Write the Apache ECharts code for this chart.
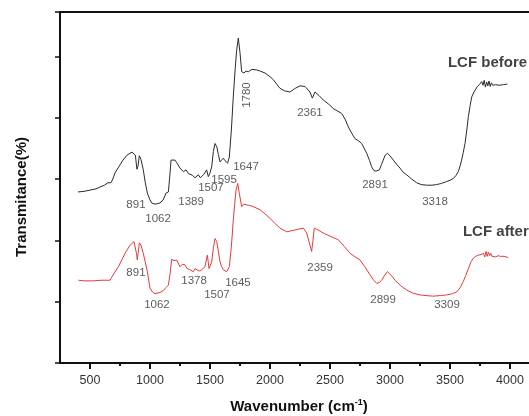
<!DOCTYPE html>
<html>
<head>
<meta charset="utf-8">
<script src="https://cdn.jsdelivr.net/npm/echarts@6/dist/echarts.min.js"></script>
<style>
  html, body { margin: 0; padding: 0; background: #fff; }
  #chart { width: 529px; height: 416px; }
</style>
</head>
<body>
<div id="chart"></div>
<script>
// FTIR spectra of LCF before and after treatment (wavenumber in cm-1, transmittance in arbitrary units)
const xMajorTicks = [500, 1000, 1500, 2000, 2500, 3000, 3500, 4000, 4500];
const xTickLabels = [500, 1000, 1500, 2000, 2500, 3000, 3500, 4000];
const xMinorTicks = [750, 1250, 1750, 2250, 2750, 3250, 3750, 4250];

const beforeLCF = [
  [400,27.9],[450,28.0],[500,28.2],[550,28.4],[583,28.7],[620,29.0],[650,29.4],[675,29.4],[690,30.0],[708,31.0],
  [740,32.0],[775,33.1],[808,33.9],[850,34.4],[861,34.4],[878,33.9],[891,31.6],[899,32.0],[911,33.8],[925,33.2],
  [944,31.5],[960,29.5],[978,27.7],[1000,26.6],[1014,26.1],[1042,25.9],[1083,26.1],[1110,26.6],[1133,27.7],[1153,27.9],
  [1165,30.5],[1175,33.1],[1208,33.1],[1222,32.7],[1250,31.8],[1278,31.2],[1300,31.5],[1320,30.9],[1333,31.0],[1355,30.6],
  [1375,30.2],[1403,30.7],[1420,30.2],[1431,30.4],[1450,30.8],[1472,31.5],[1486,30.4],[1500,31.0],[1514,32.0],[1528,34.5],
  [1542,35.8],[1556,35.3],[1570,34.0],[1583,32.8],[1595,32.6],[1611,33.4],[1625,33.0],[1639,32.8],[1647,32.6],[1661,33.6],
  [1678,38.0],[1694,43.4],[1710,48.0],[1722,51.0],[1736,53.0],[1750,50.6],[1764,47.5],[1783,47.3],[1800,47.6],[1819,47.5],
  [1850,47.9],[1889,47.8],[1920,47.6],[1958,47.3],[2000,46.7],[2028,46.2],[2083,44.8],[2120,44.4],[2167,44.2],[2210,44.8],
  [2250,45.2],[2292,45.1],[2333,44.2],[2353,43.2],[2375,44.2],[2410,43.6],[2444,42.9],[2490,42.2],[2528,41.5],[2597,40.7],
  [2625,39.8],[2653,38.5],[2680,37.5],[2708,36.6],[2740,36.2],[2764,35.8],[2806,34.2],[2830,33.0],[2847,32.0],[2865,31.4],
  [2883,31.3],[2911,31.5],[2930,32.4],[2944,33.1],[2960,33.9],[2978,34.2],[3000,33.8],[3028,33.1],[3055,32.4],[3083,31.8],
  [3110,31.1],[3139,30.7],[3180,30.0],[3222,29.4],[3260,29.1],[3306,29.0],[3350,29.0],[3389,29.1],[3430,29.3],[3472,29.6],
  [3500,29.8],[3528,30.1],[3550,30.6],[3569,31.2],[3585,32.2],[3597,33.1],[3610,34.3],[3625,35.8],[3640,38.0],[3653,40.2],
  [3668,42.0],[3681,43.4],[3700,44.2],[3715,44.5],[3728,45.1],[3745,45.4],[3764,45.9],[3775,45.3],[3785,46.1],[3795,45.0],
  [3806,45.8],[3815,45.2],[3825,46.0],[3835,45.1],[3845,45.7],[3855,45.3],[3865,45.6],[3880,45.4],[3895,45.7],[3910,45.3],
  [3925,45.6],[3945,45.4],[3960,45.5],[3978,45.5]
];

const afterLCF = [
  [403,13.5],[450,13.4],[528,13.4],[600,13.5],[667,13.5],[681,14.0],[700,14.6],[736,15.7],[765,16.8],[792,17.9],
  [833,19.2],[867,19.8],[880,19.6],[888,17.8],[894,16.8],[902,18.0],[911,19.6],[925,19.2],[944,17.9],[960,16.5],
  [978,14.9],[990,13.4],[1000,12.2],[1020,11.6],[1042,11.3],[1083,11.5],[1110,11.8],[1133,12.3],[1153,12.7],[1167,14.5],
  [1181,16.9],[1200,16.7],[1222,16.8],[1250,15.7],[1270,16.1],[1292,16.0],[1310,15.4],[1333,15.2],[1361,14.9],[1375,15.4],
  [1389,15.7],[1410,15.0],[1431,15.2],[1458,15.7],[1478,17.6],[1492,15.4],[1514,16.5],[1528,18.8],[1542,20.3],[1556,19.8],
  [1570,18.2],[1583,16.5],[1597,15.7],[1611,15.2],[1639,14.9],[1650,15.0],[1661,15.7],[1678,19.0],[1694,23.3],[1705,25.8],
  [1717,28.2],[1731,29.3],[1744,27.7],[1764,25.5],[1780,25.9],[1800,25.8],[1830,25.7],[1861,25.5],[1917,25.0],[1960,24.3],
  [2000,23.6],[2040,22.8],[2083,22.0],[2139,21.4],[2208,21.7],[2278,22.0],[2306,21.2],[2325,19.8],[2347,18.2],[2357,19.8],
  [2369,22.0],[2400,21.7],[2444,21.2],[2500,20.7],[2569,20.1],[2620,19.0],[2667,17.9],[2710,17.3],[2750,16.8],[2790,15.7],
  [2833,14.4],[2860,13.6],[2889,13.0],[2910,13.1],[2931,13.5],[2955,14.3],[2978,14.9],[3010,14.3],[3042,13.5],[3090,12.6],
  [3139,11.9],[3190,11.4],[3250,11.1],[3300,11.0],[3361,10.9],[3420,11.0],[3472,11.1],[3520,11.3],[3556,11.6],[3585,12.3],
  [3611,13.3],[3630,14.2],[3653,15.4],[3675,16.5],[3694,17.1],[3715,17.4],[3736,17.6],[3760,17.7],[3778,17.9],[3790,17.3],
  [3800,18.2],[3810,17.4],[3820,18.1],[3830,17.5],[3840,17.9],[3850,17.4],[3861,17.6],[3880,17.3],[3900,17.5],[3920,17.4],
  [3950,17.4],[3986,17.2]
];

// band labels: [text, wavenumber anchor, transmittance anchor]
const beforeBands = [
  ['891', 883, 25.8], ['1062', 1067, 23.5], ['1389', 1342, 26.3], ['1507', 1508, 28.5],
  ['1595', 1617, 29.8], ['1647', 1800, 32.0], ['2361', 2333, 40.8], ['2891', 2875, 29.0], ['3318', 3375, 26.3]
];
const beforeRotatedBands = [['1780', 1804, 43.7]];
const afterBands = [
  ['891', 883, 14.7], ['1062', 1058, 9.5], ['1378', 1367, 13.4], ['1507', 1558, 11.1],
  ['1645', 1733, 13.0], ['2359', 2417, 15.5], ['2899', 2942, 10.3], ['3309', 3475, 9.5]
];
const sampleNames = [['LCF before', 3483, 49.0], ['LCF after', 3608, 21.4]];

const FONT = 'Liberation Sans, Arial, Helvetica, sans-serif';
const chart = echarts.init(document.getElementById('chart'), null, { renderer: 'canvas' });

function bandSeries(list, rotate) {
  return {
    type: 'scatter',
    symbolSize: 0,
    silent: true,
    data: list.map(b => ({ name: b[0], value: [b[1], b[2]] })),
    label: {
      show: true,
      position: 'inside',
      formatter: p => p.name,
      rotate: rotate || 0,
      color: '#333',
      fontFamily: FONT,
      fontSize: 11.5
    },
    z: 5
  };
}

chart.setOption({
  animation: false,
  backgroundColor: '#fff',
  grid: {
    left: 60, top: 12, right: -41, bottom: 53,
    containLabel: false, outerBoundsMode: 'none',
    show: true, borderColor: '#111', borderWidth: 2, backgroundColor: 'transparent'
  },
  xAxis: [{
    type: 'value', min: 250, max: 4500,
    axisLine: { lineStyle: { color: '#111', width: 2 } },
    axisTick: { customValues: xMajorTicks, length: 6, lineStyle: { color: '#111', width: 2 } },
    axisLabel: {
      customValues: xTickLabels, margin: 11, color: '#333', fontFamily: FONT, fontSize: 12.5,
      formatter: v => String(v)
    },
    splitLine: { show: false }
  }, {
    type: 'value', min: 250, max: 4500, position: 'bottom',
    axisLine: { show: false },
    axisTick: { customValues: xMinorTicks, length: 3, lineStyle: { color: '#111', width: 2 } },
    axisLabel: { show: false },
    splitLine: { show: false }
  }],
  yAxis: {
    type: 'value', min: 0, max: 57.25, interval: 10,
    axisLine: { show: true, lineStyle: { color: '#111', width: 2 } },
    axisTick: { show: true, length: 5, lineStyle: { color: '#111', width: 1.5 } },
    axisLabel: { show: false },
    splitLine: { show: false }
  },
  series: [
    {
      type: 'line', name: 'LCF before', data: beforeLCF, showSymbol: false,
      lineStyle: { color: '#2b2b2b', width: 1 }, z: 3
    },
    {
      type: 'line', name: 'LCF after', data: afterLCF, showSymbol: false,
      lineStyle: { color: '#e23b3b', width: 1 }, z: 3
    },
    bandSeries(beforeBands),
    bandSeries(beforeRotatedBands, 90),
    bandSeries(afterBands),
    {
      type: 'scatter', symbolSize: 0, silent: true,
      data: sampleNames.map(s => ({ name: s[0], value: [s[1], s[2]] })),
      label: {
        show: true, position: 'right', distance: 0, formatter: p => p.name,
        color: '#111', fontFamily: FONT, fontSize: 15, fontWeight: 'bold'
      },
      z: 5
    }
  ],
  graphic: [
    {
      type: 'text', x: 21.5, y: 197, rotation: Math.PI / 2,
      style: {
        text: 'Transmitance(%)', fill: '#111', align: 'center', verticalAlign: 'middle',
        font: 'bold 15px ' + FONT
      }
    },
    {
      type: 'text', x: 299, y: 407,
      style: {
        text: '{a|Wavenumber (cm}{s|-1}{a|)}',
        align: 'center', verticalAlign: 'middle',
        rich: {
          a: { fill: '#111', fontFamily: FONT, fontSize: 15, fontWeight: 'bold', lineHeight: 18 },
          s: { fill: '#111', fontFamily: FONT, fontSize: 9, fontWeight: 'bold', verticalAlign: 'top', lineHeight: 10 }
        }
      }
    }
  ]
});
</script>
</body>
</html>
